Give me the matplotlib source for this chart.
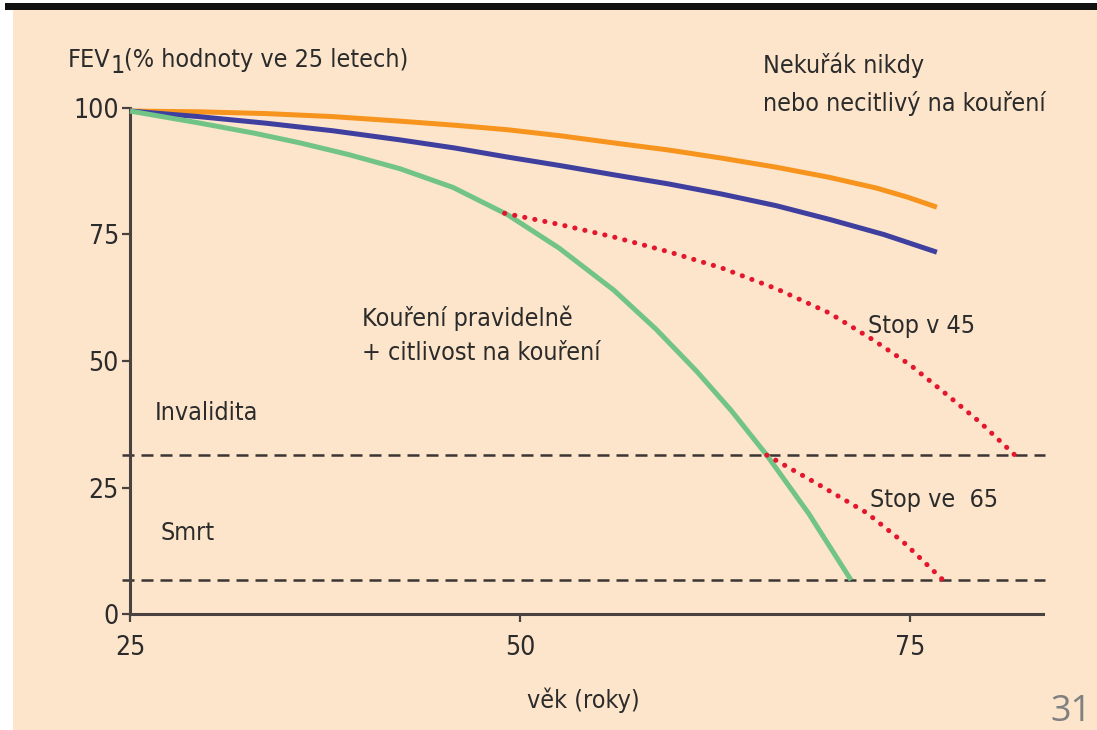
import numpy as np
import matplotlib.pyplot as plt
from matplotlib.patches import Rectangle

# FEV1 decline with age (percent of value at age 25)
never_age = [25, 29.4, 33.7, 38, 42.3, 45.8, 49.2, 52.6, 56.0, 59.5, 62.9, 66.4, 69.8, 72.8, 74.8, 76.7]
never_fev = [99.4, 99.25, 98.9, 98.3, 97.4, 96.6, 95.7, 94.5, 93.1, 91.7, 90.1, 88.3, 86.3, 84.2, 82.4, 80.4]

normal_age = [25, 29.4, 33.7, 38, 42.3, 45.8, 49.2, 52.6, 56.0, 59.5, 62.9, 66.4, 69.8, 73.3, 76.7]
normal_fev = [99.4, 98.3, 97.0, 95.5, 93.7, 92.1, 90.3, 88.6, 86.8, 85.0, 83.0, 80.7, 78.0, 75.0, 71.5]

smoker_age = [25, 29.5, 33, 35.9, 39, 42.3, 45.7, 49.2, 52.5, 56.0, 58.7, 61.3, 63.5, 65.8, 68.5, 71.2]
smoker_fev = [99.4, 97.0, 95.0, 93.1, 90.8, 88.0, 84.3, 78.9, 72.3, 64.0, 56.3, 48.0, 40.3, 31.4, 19.8, 6.7]

stop45_age = [49.0, 52.5, 56.0, 59.5, 62.9, 66.4, 69.8, 72.6, 75.0, 77.2, 79.5, 81.7]
stop45_fev = [79.2, 77.0, 74.5, 71.6, 68.4, 64.3, 59.5, 54.2, 49.2, 43.7, 37.8, 31.4]

stop65_age = [65.8, 69.0, 72.2, 74.7, 77.1]
stop65_fev = [31.4, 25.8, 20.0, 13.8, 6.7]

disability_level = 31.4
death_level = 6.7

xticks = [25, 50, 75]
yticks = [0, 25, 50, 75, 100]

bg = '#fde5cb'
ink = '#3b3533'
plt.rcParams['font.family'] = ['DejaVu Sans']
plt.rcParams['font.stretch'] = 'condensed'

fig = plt.figure(figsize=(10.97, 7.3), dpi=100)
fig.patch.set_facecolor('white')
fig.patches.append(Rectangle((13 / 1097, 0), 1, 720 / 730, transform=fig.transFigure,
                             facecolor=bg, edgecolor='none', zorder=-2))
fig.patches.append(Rectangle((5 / 1097, 720 / 730), 1, 7 / 730, transform=fig.transFigure,
                             facecolor='#111111', edgecolor='none', zorder=-2))

ax = fig.add_axes([130 / 1097, 116 / 730, 913 / 1097, 506 / 730])
ax.set_facecolor('none')
ax.set_zorder(1)
ax.set_xlim(25, 83.5)
ax.set_ylim(0, 100)

for s in ['top', 'right']:
    ax.spines[s].set_visible(False)
for s in ['left', 'bottom']:
    ax.spines[s].set_color('#4a4240')
    ax.spines[s].set_linewidth(2.2)

ax.set_xticks(xticks)
ax.set_yticks(yticks)
ax.tick_params(axis='both', colors='#4a4240', width=1.6, length=6, labelsize=19,
               labelcolor='#2b2b2b')
ax.tick_params(axis='y', pad=2)
ax.tick_params(axis='x', pad=9)

# threshold lines
dash = (0, (4.8, 2.8))
for lvl in [disability_level, death_level]:
    ax.plot([24.5, 83.6], [lvl, lvl], color=ink, lw=1.8, linestyle=dash, clip_on=False, zorder=2)

ax.plot(never_age, never_fev, color='#f7941d', lw=3.6, solid_capstyle='butt', zorder=3, clip_on=False)
ax.plot(normal_age, normal_fev, color='#3f3f9f', lw=3.6, solid_capstyle='butt', zorder=3, clip_on=False)
ax.plot(smoker_age, smoker_fev, color='#72c486', lw=3.6, solid_capstyle='butt', zorder=3, clip_on=False)
dots = (0, (0.05, 2.0))
ax.plot(stop45_age, stop45_fev, color='#e3162e', lw=3.6, linestyle=dots, dash_capstyle='round', zorder=4)
ax.plot(stop65_age, stop65_fev, color='#e3162e', lw=3.6, linestyle=dots, dash_capstyle='round', zorder=4)

txt = dict(fontsize=18, color='#2b2b2b', va='center', ha='left')
fig.text(68 / 1097, 1 - 60 / 730, 'FEV', **txt)
fig.text(111 / 1097, 1 - 66 / 730, '1', **txt)
fig.text(124 / 1097, 1 - 60 / 730, '(% hodnoty ve 25 letech)', **txt)
fig.text(763 / 1097, 1 - 65 / 730, 'Nekuřák nikdy', **txt)
fig.text(763 / 1097, 1 - 103 / 730, 'nebo necitlivý na kouření', **txt)
fig.text(362 / 1097, 1 - 318 / 730, 'Kouření pravidelně', **txt)
fig.text(362 / 1097, 1 - 353 / 730, '+ citlivost na kouření', **txt)
fig.text(868 / 1097, 1 - 326 / 730, 'Stop v 45', **txt)
fig.text(870 / 1097, 1 - 500 / 730, 'Stop ve  65', **txt)
fig.text(155 / 1097, 1 - 413 / 730, 'Invalidita', **txt)
fig.text(160 / 1097, 1 - 533 / 730, 'Smrt', **txt)
fig.text(583 / 1097, 1 - 700 / 730, 'věk (roky)', fontsize=18, color='#2b2b2b',
         va='center', ha='center')
fig.text(1092 / 1097, 1 - 712 / 730, '31', fontsize=26, color='#7f8080',
         va='center', ha='right', family=['Open Sans', 'DejaVu Sans'], stretch='normal')

fig.savefig('out.png', dpi=100, facecolor=fig.get_facecolor())
